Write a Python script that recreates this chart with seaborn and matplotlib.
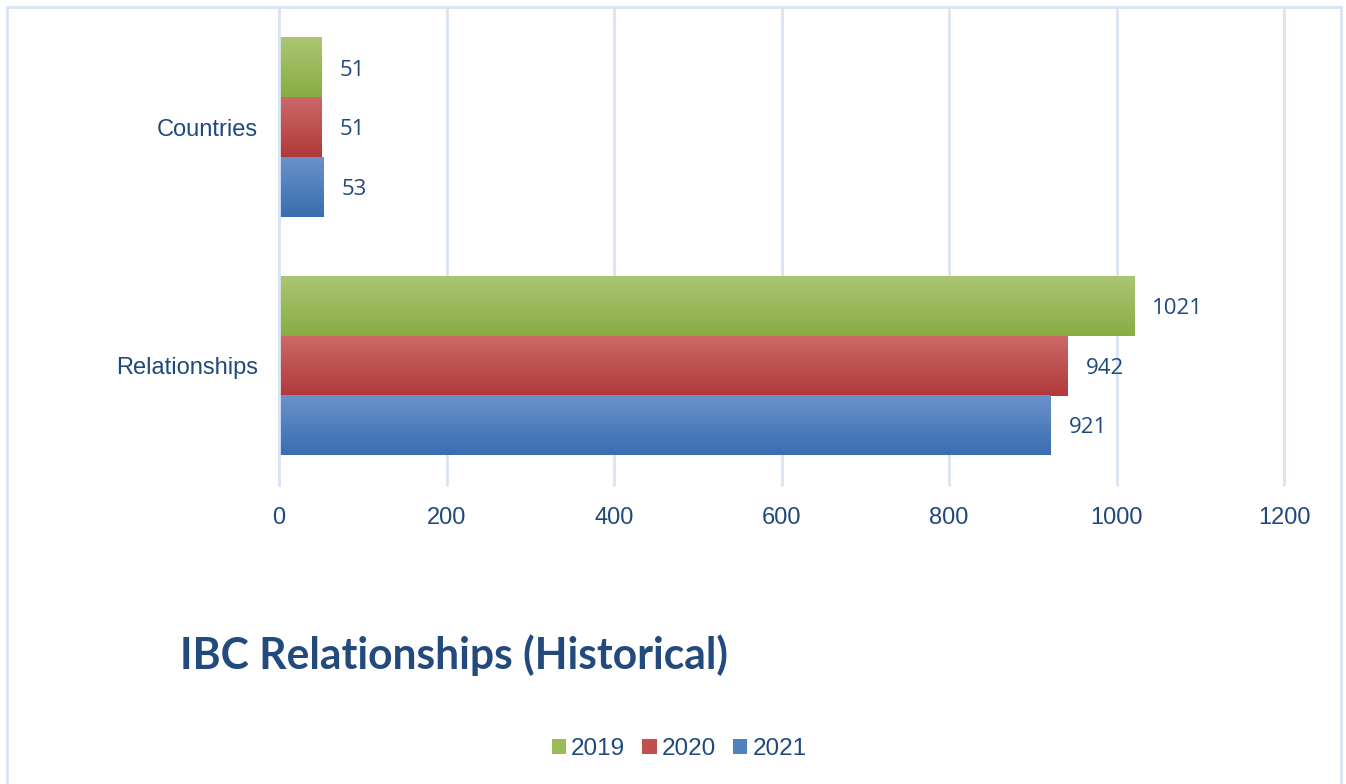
import pandas as pd
import matplotlib.pyplot as plt
import numpy as np
import seaborn as sns
from matplotlib.colors import LinearSegmentedColormap
from matplotlib.patches import Patch, Rectangle

# data
categories = ["Countries", "Relationships"]
years = ["2019", "2020", "2021"]
countries = [51, 51, 53]
relationships = [1021, 942, 921]

# colours (light top -> dark bottom gradient, like the office bars)
year_colors = {"2019": ("#abc672", "#89ac43"), "2020": ("#cb6967", "#b1393a"),
               "2021": ("#6a92ca", "#3a6db1")}
mid_colors = ["#9bbb59", "#c0504d", "#4f81bd"]
text_blue = "#1f497d"
grid_blue = "#d9e4f2"

rows = []
for i, y in enumerate(years):
    rows.append({"cat": categories[0], "year": y, "value": countries[i]})
    rows.append({"cat": categories[1], "year": y, "value": relationships[i]})
df = pd.DataFrame(rows)

sns.set_style("white")
plt.rcParams['font.family'] = ['Liberation Sans', 'DejaVu Sans']

fig = plt.figure(figsize=(13.46, 7.84), dpi=100)
ax = fig.add_axes([279/1346, 1-485/784, (1284-279)/1346, (485-8)/784])

sns.barplot(data=df, y="cat", x="value", hue="year", order=categories, hue_order=years,
            palette=mid_colors, orient="h", width=0.75, ax=ax, legend=False)

ax.set_xlim(0, 1200)
ax.set_ylim(1.5, -0.5)
ax.set_xticks(np.arange(0, 1201, 200))
ax.grid(axis="x", color=grid_blue, linewidth=2)
for gl in ax.get_xgridlines():
    gl.set_clip_on(False)
ax.set_axisbelow(True)
for s in ["top", "right", "bottom"]:
    ax.spines[s].set_visible(False)
ax.spines["left"].set_color(grid_blue)
ax.spines["left"].set_linewidth(2)
ax.tick_params(axis="both", length=0, labelsize=17, colors=text_blue)
ax.tick_params(axis="y", pad=15)
ax.tick_params(axis="x", pad=16)
ax.set_xlabel("")
ax.set_ylabel("")

# gradient fill for each bar
for k, container in enumerate(ax.containers):
    light, dark = year_colors[years[k]]
    cmap = LinearSegmentedColormap.from_list("g", [light, dark])
    grad = np.linspace(0, 1, 64).reshape(-1, 1)
    for bar in container:
        x0, y0 = bar.get_xy()
        w, h = bar.get_width(), bar.get_height()
        ax.imshow(grad, cmap=cmap, aspect="auto", origin="upper",
                  extent=(x0, x0 + w, y0 + h, y0), zorder=2)
        bar.set_facecolor("none")
        bar.set_edgecolor("none")
    labels = ax.bar_label(container, padding=13, fontsize=16, color=text_blue,
                          fontfamily="Open Sans")
    for t in labels:
        t.set_va("center_baseline")
ax.set_xlim(0, 1200)
ax.set_ylim(1.5, -0.5)

# title
fig.text(180/1346, 1-669/784, "IBC Relationships (Historical)", fontsize=30.7,
         fontweight="bold", fontfamily="Lato", color="#234a7c", ha="left", va="baseline")

# legend
handles = [Patch(facecolor=c, edgecolor="none") for c in mid_colors]
fig.legend(handles, years, loc="center", bbox_to_anchor=(679/1346, 1-749/784), ncol=3,
           frameon=False, fontsize=17.5, handlelength=0.6, handleheight=0.6,
           handletextpad=0.2, columnspacing=0.7, labelcolor=text_blue)

# outer chart border
fig.patches.append(Rectangle((7/1346, -0.05), (1341-7)/1346, 1.05 - 7/784,
                             transform=fig.transFigure, fill=False,
                             edgecolor=grid_blue, linewidth=2))

fig.savefig("out.png", dpi=100)
